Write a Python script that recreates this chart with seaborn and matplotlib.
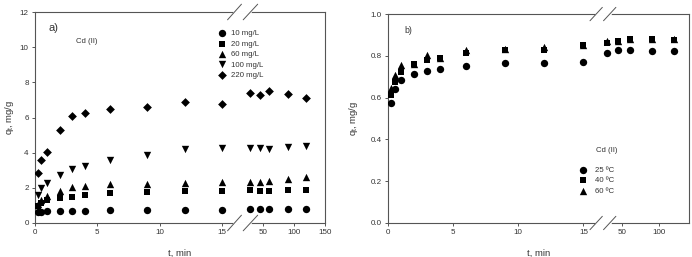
import numpy as np
import pandas as pd
import matplotlib
matplotlib.use("Agg")
import matplotlib.pyplot as plt
import seaborn as sns

# ---------------- data ----------------
times = [0.25, 0.5, 1, 2, 3, 4, 6, 9, 12, 15, 30, 45, 60, 90, 120]

conc_labels = ["10 mg/L", "20 mg/L", "60 mg/L", "100 mg/L", "220 mg/L"]
q_10 = [0.60, 0.65, 0.68, 0.69, 0.70, 0.71, 0.73, 0.75, 0.75, 0.75, 0.80, 0.80, 0.81, 0.81, 0.81]
q_20 = [0.95, 1.15, 1.28, 1.44, 1.50, 1.58, 1.71, 1.79, 1.81, 1.84, 1.88, 1.83, 1.84, 1.86, 1.90]
q_60 = [1.10, 1.30, 1.52, 1.81, 2.03, 2.09, 2.19, 2.24, 2.30, 2.32, 2.34, 2.36, 2.40, 2.49, 2.59]
q_100 = [1.60, 1.98, 2.26, 2.74, 3.06, 3.27, 3.56, 3.84, 4.20, 4.26, 4.26, 4.24, 4.20, 4.32, 4.39]
q_220 = [2.87, 3.58, 4.02, 5.30, 6.10, 6.28, 6.49, 6.60, 6.90, 6.79, 7.40, 7.30, 7.51, 7.32, 7.09]

temp_labels = ["25 \u00baC", "40 \u00baC", "60 \u00baC"]
q_25C = [0.575, 0.643, 0.683, 0.712, 0.726, 0.738, 0.752, 0.768, 0.766, 0.771, 0.812, 0.826, 0.826, 0.821, 0.824]
q_40C = [0.614, 0.677, 0.722, 0.760, 0.781, 0.789, 0.813, 0.828, 0.828, 0.852, 0.861, 0.873, 0.880, 0.879, 0.877]
q_60C = [0.645, 0.710, 0.758, 0.760, 0.803, 0.790, 0.828, 0.831, 0.843, 0.850, 0.873, 0.872, 0.879, 0.880, 0.879]

xticks_a = [0, 5, 10, 15, 50, 100, 150]
xticks_b = [0, 5, 10, 15, 50, 100]
yticks_a = [0, 2, 4, 6, 8, 10, 12]
yticks_b = [0.0, 0.2, 0.4, 0.6, 0.8, 1.0]

# ---------------- style ----------------
sns.set_theme(style="ticks")
plt.rcParams["font.family"] = ["Liberation Sans", "DejaVu Sans"]
plt.rcParams["mathtext.fontset"] = "custom"
plt.rcParams["mathtext.rm"] = "Liberation Sans"
plt.rcParams["mathtext.it"] = "Liberation Sans"
spine_col = "#555555"
text_col = "#333333"


def make_scale(tb, A, k):
    def fwd(t):
        t = np.asarray(t, dtype=float)
        return np.where(t <= tb, t, A + (t - 50.0) * k)

    def inv(u):
        u = np.asarray(u, dtype=float)
        return np.where(u <= tb, u, 50.0 + (u - A) / k)

    return fwd, inv


def style_axes(ax, xticks, yticks, xlim, ylim, yfmt):
    ax.set_xlim(*xlim)
    ax.set_ylim(*ylim)
    ax.set_xticks(xticks)
    ax.set_xticklabels([str(v) for v in xticks])
    ax.set_yticks(yticks)
    ax.set_yticklabels([yfmt.format(v) for v in yticks])
    ax.minorticks_off()
    for s in ax.spines.values():
        s.set_visible(True)
        s.set_color(spine_col)
        s.set_linewidth(0.8)
    ax.tick_params(axis="both", which="major", length=2.5, width=0.7,
                   color=spine_col, labelsize=5.8, labelcolor=text_col, pad=2)


def draw_break(ax, x1, x2, x3, x4, dy):
    kw = dict(transform=ax.transAxes, clip_on=False, zorder=10)
    xm1 = (x1 + x2) / 2
    xm2 = (x3 + x4) / 2
    for y in (0, 1):
        ax.plot([xm1, xm2], [y, y], color="white", lw=2.0, **kw)
        ax.plot([x1, x2], [y - dy, y + dy], color=spine_col, lw=0.7, **kw)
        ax.plot([x3, x4], [y - dy, y + dy], color=spine_col, lw=0.7, **kw)


fig = plt.figure(figsize=(6.92, 2.57), dpi=100)
axa = fig.add_axes([0.0506, 0.1323, 0.419, 0.821])
axb = fig.add_axes([0.5607, 0.1323, 0.435, 0.813])

sizes = {"o": 28, "s": 22, "^": 28, "v": 28, "D": 20}

# ---------------- panel a ----------------
fa, ia = make_scale(16.0, 18.28, 0.0498)
axa.set_xscale("function", functions=(fa, ia))
dfa = pd.DataFrame({
    "t": times * 5,
    "q": q_10 + q_20 + q_60 + q_100 + q_220,
    "series": sum([[lab] * len(times) for lab in conc_labels], []),
})
markers_a = dict(zip(conc_labels, ["o", "s", "^", "v", "D"]))
for lab in conc_labels:
    m = markers_a[lab]
    sns.scatterplot(data=dfa[dfa["series"] == lab], x="t", y="q", marker=m,
                    color="black", s=sizes[m], linewidth=0, ax=axa,
                    label=lab, zorder=3)
style_axes(axa, xticks_a, yticks_a, (0, 150), (0, 12), "{:g}")
axa.set_xlabel("t, min", fontsize=6.8, color=text_col, labelpad=9)
axa.set_ylabel("q$_t$, mg/g", fontsize=6.8, color=text_col, labelpad=3)
axa.legend(loc="upper left", bbox_to_anchor=(0.617, 0.93), frameon=False,
           fontsize=5.6, labelspacing=0.38, handletextpad=0.6,
           borderaxespad=0, handlelength=1.2, labelcolor=text_col)
axa.text(0.045, 0.924, "a)", transform=axa.transAxes, fontsize=8,
         color=text_col, va="center", ha="left")
axa.text(0.179, 0.858, "Cd (II)", transform=axa.transAxes, fontsize=5.6,
         color=text_col, va="center", ha="center")
draw_break(axa, 0.664, 0.712, 0.718, 0.768, 0.037)

# ---------------- panel b ----------------
fb, ib = make_scale(16.0, 17.97, 0.0574)
axb.set_xscale("function", functions=(fb, ib))
dfb = pd.DataFrame({
    "t": times * 3,
    "q": q_25C + q_40C + q_60C,
    "series": sum([[lab] * len(times) for lab in temp_labels], []),
})
markers_b = dict(zip(temp_labels, ["o", "s", "^"]))
for i, lab in enumerate(temp_labels):
    m = markers_b[lab]
    sns.scatterplot(data=dfb[dfb["series"] == lab], x="t", y="q", marker=m,
                    color="black", s=sizes[m], linewidth=0, ax=axb,
                    label=lab, zorder=3 - i * 0.1)
style_axes(axb, xticks_b, yticks_b, (0, 139.5), (0, 1.0), "{:.1f}")
axb.set_xlabel("t, min", fontsize=6.8, color=text_col, labelpad=9)
axb.set_ylabel("q$_t$, mg/g", fontsize=6.8, color=text_col, labelpad=8)
axb.legend(loc="upper left", bbox_to_anchor=(0.622, 0.285), frameon=False,
           fontsize=5.6, labelspacing=0.38, handletextpad=0.9,
           borderaxespad=0, handlelength=1.2, labelcolor=text_col)
axb.text(0.056, 0.923, "b)", transform=axb.transAxes, fontsize=6.2,
         color=text_col, va="center", ha="left")
axb.text(0.728, 0.349, "Cd (II)", transform=axb.transAxes, fontsize=5.6,
         color=text_col, va="center", ha="center")
draw_break(axb, 0.671, 0.712, 0.716, 0.757, 0.032)

fig.savefig("out.png", dpi=100)
